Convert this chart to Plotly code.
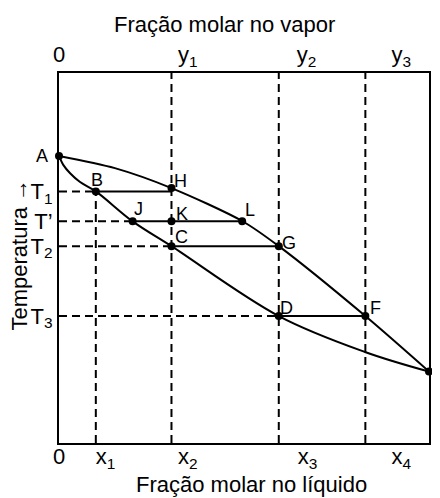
import plotly.graph_objects as go

# ---------------- data ----------------
# composition axis 0..1, temperature axis 0..100 (arbitrary units)
vapor_x = [0.0, 0.151, 0.304, 0.495, 0.594, 0.828, 1.0]
vapor_T = [77.6, 74.3, 68.9, 60.0, 53.2, 34.3, 19.3]

liquid_x = [0.0, 0.012, 0.030, 0.056, 0.0995, 0.199, 0.304, 0.594, 0.827, 1.0]
liquid_T = [77.6, 75.1, 72.9, 70.6, 68.0, 59.9, 53.2, 34.3, 24.6, 19.3]

# named compositions and temperatures
X1, X2, X3, X4 = 0.0995, 0.304, 0.594, 0.828
XJ, XL = 0.199, 0.495
TA, T1, TP, T2, T3, TE = 77.6, 68.0, 59.9, 53.2, 34.3, 19.3
TH = 68.9

point_names = ["A", "B", "H", "J", "K", "L", "C", "G", "D", "F", "E"]
point_x = [0.0, X1, X2, XJ, X2, XL, X2, X3, X3, X4, 1.0]
point_T = [TA, T1, TH, TP, TP, TP, T2, T2, T3, T3, TE]

# tie lines (solid): pairs of points
ties = [((X1, T1), (X2, T1)), ((XJ, TP), (XL, TP)), ((X2, T2), (X3, T2)), ((X3, T3), (X4, T3))]

# guide lines (dashed)
vert_guides = [(X1, 0, T1), (X2, 0, 100), (X3, 0, 100), (X4, 0, 100)]
horiz_guides = [(T1, X1), (TP, XJ), (T2, X2), (T3, X3)]

# tick labels
bottom_tick_pos = [0.0, 0.126, 0.348, 0.672, 0.925]
bottom_tick_text = ["0", "x<sub>1</sub>", "x<sub>2</sub>", "x<sub>3</sub>", "x<sub>4</sub>"]
top_tick_pos = [0.0, 0.348, 0.669, 0.925]
top_tick_text = ["0", "y<sub>1</sub>", "y<sub>2</sub>", "y<sub>3</sub>"]
y_tick_pos = [T1, TP, T2, T3]
y_tick_text = ["T<sub>1</sub>", "T’", "T<sub>2</sub>", "T<sub>3</sub>"]

# ---------------- styles ----------------
FONT = "Liberation Sans, Arial, sans-serif"
label_offsets = {  # (dx, dy) pixels, dy positive = down
    "A": (-17, 0), "B": (1, -11), "H": (9, -7), "J": (6, -12), "K": (11, -7),
    "L": (8, -11), "C": (10, -9), "G": (10, -3), "D": (8, -8), "F": (10, -8), "E": (8, 0),
}
DASH = "8px,5px"

fig = go.Figure()

for xg, y0, y1 in vert_guides:
    fig.add_trace(go.Scatter(x=[xg, xg], y=[y0, y1], mode="lines",
                             line=dict(color="black", width=2, dash=DASH), hoverinfo="skip"))
for tg, xend in horiz_guides:
    fig.add_trace(go.Scatter(x=[0, xend], y=[tg, tg], mode="lines",
                             line=dict(color="black", width=2, dash=DASH), hoverinfo="skip"))
for (xa, ta), (xb, tb) in ties:
    fig.add_trace(go.Scatter(x=[xa, xb], y=[ta, tb], mode="lines",
                             line=dict(color="black", width=2), hoverinfo="skip"))

fig.add_trace(go.Scatter(x=vapor_x, y=vapor_T, mode="lines",
                         line=dict(color="black", width=2, shape="spline", smoothing=0.8)))
fig.add_trace(go.Scatter(x=liquid_x, y=liquid_T, mode="lines",
                         line=dict(color="black", width=2, shape="spline", smoothing=1.0)))

fig.add_trace(go.Scatter(x=point_x, y=point_T, mode="markers",
                         marker=dict(color="black", size=8), cliponaxis=False))

# invisible trace for the top axis
fig.add_trace(go.Scatter(x=[0, 1], y=[0, 0], xaxis="x2", mode="lines",
                         line=dict(width=0), hoverinfo="skip"))

for name, px, pt in zip(point_names, point_x, point_T):
    dx, dy = label_offsets[name]
    fig.add_annotation(x=px, y=pt, text=name, showarrow=False, xanchor="center", yanchor="middle",
                       xshift=dx, yshift=-dy, font=dict(family=FONT, size=18, color="black"))

# axis titles
fig.add_annotation(xref="paper", yref="paper", x=0.52, y=-0.113, text="Fração molar no líquido",
                   showarrow=False, xanchor="center", yanchor="middle",
                   font=dict(family=FONT, size=22, color="black"))
fig.add_annotation(xref="paper", yref="paper", x=0.446, y=1.13, text="Fração molar no vapor",
                   showarrow=False, xanchor="center", yanchor="middle",
                   font=dict(family=FONT, size=22, color="black"))
fig.add_annotation(xref="paper", yref="paper", x=-0.1075, y=0.51, text="Temperatura →",
                   textangle=-90, showarrow=False, xanchor="center", yanchor="middle",
                   font=dict(family=FONT, size=22, color="black"))

axis_common = dict(showgrid=False, zeroline=False, ticks="", showline=True,
                   linecolor="black", linewidth=2,
                   tickfont=dict(family=FONT, size=22, color="black"))

# page body has an 8px margin, so the figure is 8px smaller and margins shifted
fig.update_layout(
    width=432, height=490,
    margin=dict(l=51, r=9, t=65, b=55),
    paper_bgcolor="white", plot_bgcolor="white",
    showlegend=False,
    xaxis=dict(range=[0, 1], tickmode="array", tickvals=bottom_tick_pos, ticktext=bottom_tick_text,
               mirror=True, ticklabelstandoff=-7, **axis_common),
    xaxis2=dict(range=[0, 1], overlaying="x", side="top", tickmode="array",
                tickvals=top_tick_pos, ticktext=top_tick_text, **axis_common),
    yaxis=dict(range=[0, 100], tickmode="array", tickvals=y_tick_pos, ticktext=y_tick_text,
               mirror=True, **axis_common),
)

fig.write_html("out.html")
